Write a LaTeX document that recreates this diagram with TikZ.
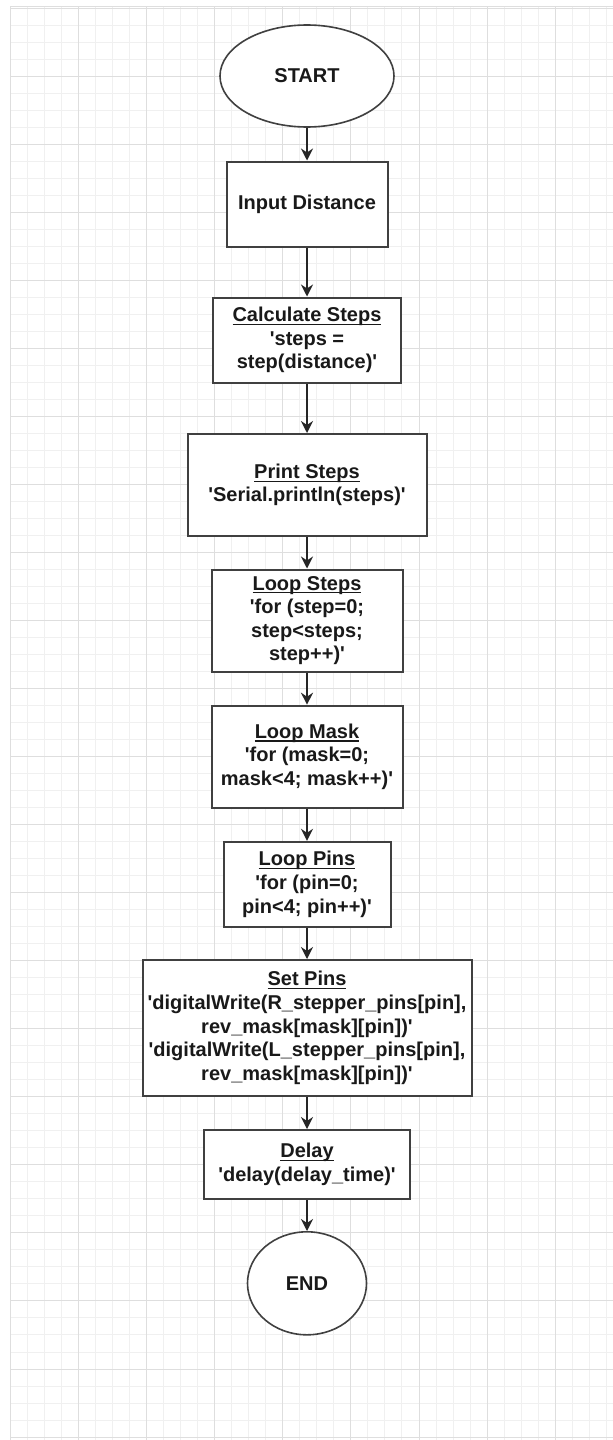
\documentclass[tikz,border=0pt]{standalone}
\usepackage{fontspec}
\setmainfont{Liberation Sans}
\usetikzlibrary{shapes.geometric,arrows.meta}
\newcommand{\sq}{\textquotesingle}
\newcommand{\boxtitle}[1]{\setbox0\hbox{#1}\rlap{\rule[-1.7pt]{\wd0}{0.6pt}}\box0}

\begin{document}
\begin{tikzpicture}[x=0.5pt, y=-0.5pt,
  every node/.style={align=center, font=\bfseries\fontsize{10}{11.8}\selectfont, text=black!90},
  gridminor/.style={line width=0.5pt, black!6},
  gridmajor/.style={line width=0.5pt, black!13},
  pbox/.style={draw=black!75, fill=white, line width=1pt, inner sep=0pt},
  pterm/.style={ellipse, draw=black!75, fill=white, line width=0.8pt, inner sep=0pt},
  flow/.style={-{Stealth[length=6pt, width=6pt, inset=2pt]}, line width=0.9pt, black!85}
]
\useasboundingbox (0,0) rectangle (613,1440);
\fill[white] (0,0) rectangle (613,1440);

% background grid
\foreach \i in {0,...,35}
  \draw[gridminor] ({10.7+17.0125*\i},7) -- ({10.7+17.0125*\i},1440);
\foreach \j in {0,...,84}
  \draw[gridminor] (10,{8+17.0125*\j}) -- (613,{8+17.0125*\j});
\foreach \i in {0,...,8}
  \draw[gridmajor] ({10.7+68.05*\i},7) -- ({10.7+68.05*\i},1440);
\foreach \j in {0,...,21}
  \draw[gridmajor] (10,{8+68.05*\j}) -- (613,{8+68.05*\j});
\draw[gridmajor] (10,6.5) -- (613,6.5);

% flowchart
\node[pterm, minimum width=87pt, minimum height=51pt] (start) at (307,76) {START};
\node[pbox, minimum width=80.5pt, minimum height=42.5pt] (input) at (307,204) {Input Distance};
\node[pbox, minimum width=94pt, minimum height=42.5pt] (calc) at (307,340) {
  \boxtitle{Calculate Steps}\\\sq steps =\\step(distance)\sq};
\node[pbox, minimum width=119.5pt, minimum height=51pt] (print) at (307,485) {
  \boxtitle{Print Steps}\\\sq Serial.println(steps)\sq};
\node[pbox, minimum width=95.5pt, minimum height=51pt] (lsteps) at (307,620.5) {
  \boxtitle{Loop Steps}\\\sq for (step=0;\\step<steps;\\step++)\sq};
\node[pbox, minimum width=95.5pt, minimum height=51pt] (lmask) at (307,756.7) {
  \boxtitle{Loop Mask}\\\sq for (mask=0;\\mask<4; mask++)\sq};
\node[pbox, minimum width=83.5pt, minimum height=42.5pt] (lpins) at (307,884.3) {
  \boxtitle{Loop Pins}\\\sq for (pin=0;\\pin<4; pin++)\sq};
\node[pbox, minimum width=164.5pt, minimum height=68pt] (setpins) at (307,1028) {
  \boxtitle{Set Pins}\\
  \sq digitalWrite(R\_stepper\_pins[pin],\\rev\_mask[mask][pin])\sq\\
  \sq digitalWrite(L\_stepper\_pins[pin],\\rev\_mask[mask][pin])\sq};
\node[pbox, minimum width=103pt, minimum height=34.5pt] (delay) at (307,1164.5) {
  \boxtitle{Delay}\\\sq delay(delay\_time)\sq};
\node[pterm, minimum width=59.5pt, minimum height=51.5pt] (end) at (307,1283.3) {END};

\draw[flow] (start) -- (input);
\draw[flow] (input) -- (calc);
\draw[flow] (calc) -- (print);
\draw[flow] (print) -- (lsteps);
\draw[flow] (lsteps) -- (lmask);
\draw[flow] (lmask) -- (lpins);
\draw[flow] (lpins) -- (setpins);
\draw[flow] (setpins) -- (delay);
\draw[flow, line width=1.3pt] (delay) -- (end);
\end{tikzpicture}
\end{document}
